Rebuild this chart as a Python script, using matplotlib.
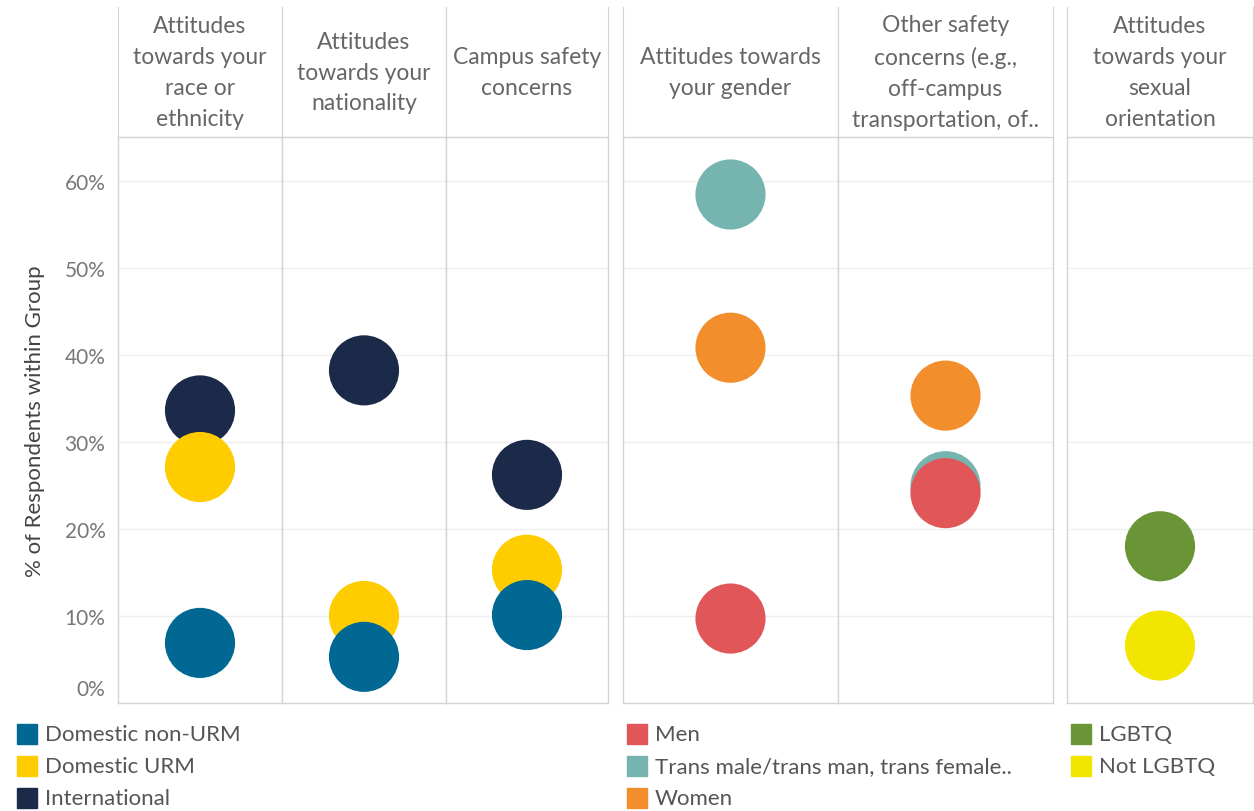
import matplotlib.pyplot as plt
from matplotlib.patches import Rectangle
from matplotlib.transforms import ScaledTranslation

plt.rcParams['font.family'] = ['Lato', 'DejaVu Sans']

W, H = 1254, 812

# column headers
topics = ["Attitudes\ntowards your\nrace or\nethnicity",
          "Attitudes\ntowards your\nnationality",
          "Campus safety\nconcerns",
          "Attitudes towards\nyour gender",
          "Other safety\nconcerns (e.g.,\noff-campus\ntransportation, of..",
          "Attitudes\ntowards your\nsexual\norientation"]

# cohort group (first three topics), % of respondents
cohort_labels = ["Domestic non-URM", "Domestic URM", "International"]
cohort_colors = ["#016894", "#FFCC00", "#1B2A49"]
non_urm = [6.9, 5.3, 10.1]
urm = [27.1, 10.0, 15.3]
intl = [33.6, 38.2, 26.2]

# gender group (topics 4-5)
gender_labels = ["Men", "Trans male/trans man, trans female..", "Women"]
gender_colors = ["#E15759", "#76B5AF", "#F28E2B"]
men = [9.7, 24.1]
trans = [58.4, 24.9]
women = [40.8, 35.3]

# orientation group (topic 6)
orient_labels = ["LGBTQ", "Not LGBTQ"]
orient_colors = ["#6A9537", "#F2E500"]
lgbtq = [18.0]
not_lgbtq = [6.6]

# pixel layout of the columns
col_x = [(118, 282), (282, 446), (446, 608), (623, 838), (838, 1053), (1067, 1253)]
head_top, plot_top, plot_bot = 8, 138, 704
line_c = "#d4d4d4"


def fr(x0, y0, x1, y1):
    return [x0 / W, 1 - y1 / H, (x1 - x0) / W, (y1 - y0) / H]


fig = plt.figure(figsize=(W / 100, H / 100), dpi=100)

# series per column, drawn in order (last on top)
col_series = []
for i in range(3):
    col_series.append([(intl[i], cohort_colors[2]), (urm[i], cohort_colors[1]),
                       (non_urm[i], cohort_colors[0])])
for i in range(2):
    col_series.append([(women[i], gender_colors[2]), (trans[i], gender_colors[1]),
                       (men[i], gender_colors[0])])
col_series.append([(lgbtq[0], orient_colors[0]), (not_lgbtq[0], orient_colors[1])])

for i, (x0, x1) in enumerate(col_x):
    ax = fig.add_axes(fr(x0, plot_top, x1, plot_bot))
    ax.set_xlim(-0.5, 0.5)
    ax.set_ylim(0, 65)
    ax.set_yticks([0, 10, 20, 30, 40, 50, 60])
    ax.set_xticks([])
    for y in [10, 20, 30, 40, 50, 60]:
        ax.axhline(y, color="#efefef", lw=1, zorder=0)
    for s in ax.spines.values():
        s.set_color(line_c)
        s.set_linewidth(1)
    for val, c in col_series[i]:
        ax.scatter([0], [val], s=2550, color=c, edgecolors='none', zorder=3)
    if i == 0:
        ax.set_yticklabels(["0%", "10%", "20%", "30%", "40%", "50%", "60%"])
        ax.tick_params(axis='y', length=0, pad=9, labelsize=15, labelcolor="#777777")
        lab0 = ax.get_yticklabels()[0]
        lab0.set_transform(lab0.get_transform() + ScaledTranslation(0, 0.16, fig.dpi_scale_trans))
        ax.set_ylabel("% of Respondents within Group", fontsize=16, color="#444444", labelpad=14)
    else:
        ax.tick_params(axis='y', length=0, labelleft=False)

    hx = fig.add_axes(fr(x0, head_top, x1, plot_top))
    hx.set_xticks([])
    hx.set_yticks([])
    hx.patch.set_alpha(0)
    hx.spines['top'].set_visible(False)
    hx.spines['bottom'].set_visible(False)
    hx.spines['left'].set_color(line_c)
    hx.spines['right'].set_color(line_c)
    hx.text(0.5, 0.5, topics[i], ha='center', va='center', fontsize=16.5,
            color="#666666", linespacing=1.58, transform=hx.transAxes)

ax_y = fig.add_axes([0, 0, 1, 1])
ax_y.axis('off')
ax_y.set_xlim(0, W)
ax_y.set_ylim(H, 0)

# legends
legends = [(17, cohort_labels, cohort_colors),
           (627, gender_labels, gender_colors),
           (1071, orient_labels, orient_colors)]
for lx, labs, cols in legends:
    for j, (lab, c) in enumerate(zip(labs, cols)):
        cy = 735 + 32 * j
        ax_y.add_patch(Rectangle((lx, cy - 10), 20, 20, color=c))
        ax_y.text(lx + 28, cy, lab, va='center', ha='left', fontsize=16, color="#555555")

fig.savefig("out.png", dpi=100)
